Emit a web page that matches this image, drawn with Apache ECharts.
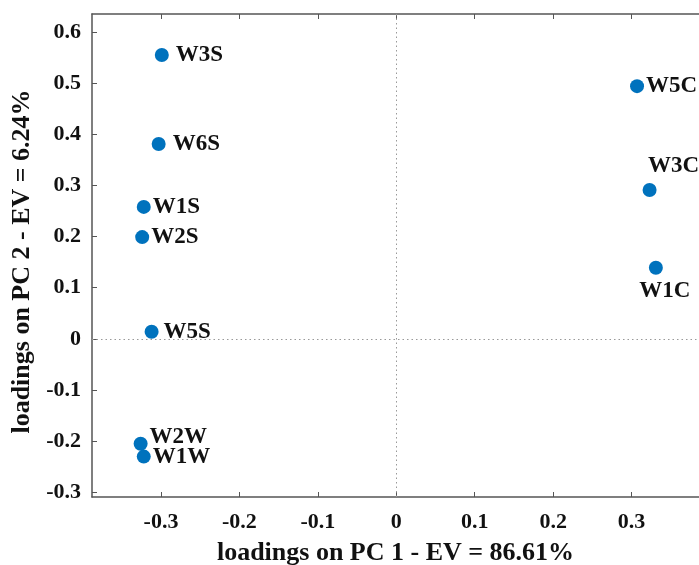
<!DOCTYPE html>
<html>
<head>
<meta charset="utf-8">
<script src="https://cdn.jsdelivr.net/npm/echarts@6/dist/echarts.min.js"></script>
<style>
  html, body { margin: 0; padding: 0; background: #fff; }
  #main { width: 699px; height: 565px; }
</style>
</head>
<body>
<div id="main"></div>
<script>
// sample names and loadings
const names = ['W3S', 'W6S', 'W1S', 'W2S', 'W5S', 'W2W', 'W1W', 'W5C', 'W3C', 'W1C'];
const pc1 = [-0.299, -0.303, -0.322, -0.324, -0.312, -0.326, -0.322, 0.307, 0.323, 0.331];
const pc2 = [0.555, 0.381, 0.258, 0.199, 0.014, -0.205, -0.230, 0.494, 0.291, 0.139];
const labelPos = ['right', 'right', 'right', 'right', 'right', 'right', 'right', 'right', 'top', 'bottom'];
const labelShift = [[5, 0], [5, 0], [0, 0], [0, 0], [3, 0], [0, -7], [0, 0], [0, 0], [24, 0], [9, 0]];
const xTicks = [-0.3, -0.2, -0.1, 0, 0.1, 0.2, 0.3];
const yTicks = [-0.3, -0.2, -0.1, 0, 0.1, 0.2, 0.3, 0.4, 0.5, 0.6];

const FONT = '"Liberation Serif", "Times New Roman", serif';
const axisColor = '#555';

const points = names.map((n, i) => ({
    name: n,
    value: [pc1[i], pc2[i]],
    label: { position: labelPos[i], offset: labelShift[i], distance: labelPos[i] === 'right' ? 2 : 5 }
}));

const fmt = v => (Math.abs(v) < 1e-9 ? '0' : String(+v.toFixed(1)));

const option = {
    animation: false,
    grid: { left: 92, right: 0, top: 14, bottom: 68, containLabel: false, outerBoundsMode: 'none' },
    xAxis: [{
        type: 'value',
        min: -0.388,
        max: 0.386,
        name: 'loadings on PC 1 - EV = 86.61%',
        nameLocation: 'middle',
        nameGap: 43,
        nameTextStyle: { fontFamily: FONT, fontWeight: 'bold', fontSize: 26, color: '#111' },
        axisLine: { show: true, onZero: false, lineStyle: { color: axisColor, width: 1.5 } },
        axisTick: { show: true, inside: true, length: 5, customValues: xTicks, lineStyle: { color: axisColor } },
        axisLabel: {
            customValues: xTicks, formatter: fmt, margin: 14,
            fontFamily: FONT, fontWeight: 'bold', fontSize: 22, color: '#111'
        },
        splitLine: { show: false }
    }, {
        type: 'value',
        position: 'top',
        min: -0.388,
        max: 0.386,
        axisLine: { show: true, onZero: false, lineStyle: { color: axisColor, width: 1.5 } },
        axisTick: { show: true, inside: true, length: 5, customValues: xTicks, lineStyle: { color: axisColor } },
        axisLabel: { show: false },
        splitLine: { show: false }
    }],
    yAxis: {
        type: 'value',
        min: -0.309,
        max: 0.635,
        name: 'loadings on PC 2 - EV = 6.24%',
        nameLocation: 'middle',
        nameGap: 57,
        nameTextStyle: { fontFamily: FONT, fontWeight: 'bold', fontSize: 26, color: '#111', padding: [0, 12, 0, 0] },
        axisLine: { show: true, onZero: false, lineStyle: { color: axisColor, width: 1.5 } },
        axisTick: { show: true, inside: true, length: 5, customValues: yTicks, lineStyle: { color: axisColor } },
        axisLabel: {
            customValues: yTicks, formatter: fmt, margin: 11,
            fontFamily: FONT, fontWeight: 'bold', fontSize: 22, color: '#111'
        },
        splitLine: { show: false }
    },
    series: [{
        type: 'scatter',
        symbolSize: 14,
        itemStyle: { color: '#0072BD', opacity: 1 },
        label: {
            show: true,
            formatter: p => p.name,
            fontFamily: FONT, fontWeight: 'bold', fontSize: 23, color: '#111'
        },
        data: points,
        markLine: {
            silent: true,
            symbol: 'none',
            label: { show: false },
            lineStyle: { color: '#999', type: [1.5, 3], width: 1 },
            data: [{ xAxis: 0 }, { yAxis: 0 }]
        }
    }]
};

const myChart = echarts.init(document.getElementById('main'));
myChart.setOption(option);
window.addEventListener('resize', () => {
    myChart.resize();
});
</script>
</body>
</html>
